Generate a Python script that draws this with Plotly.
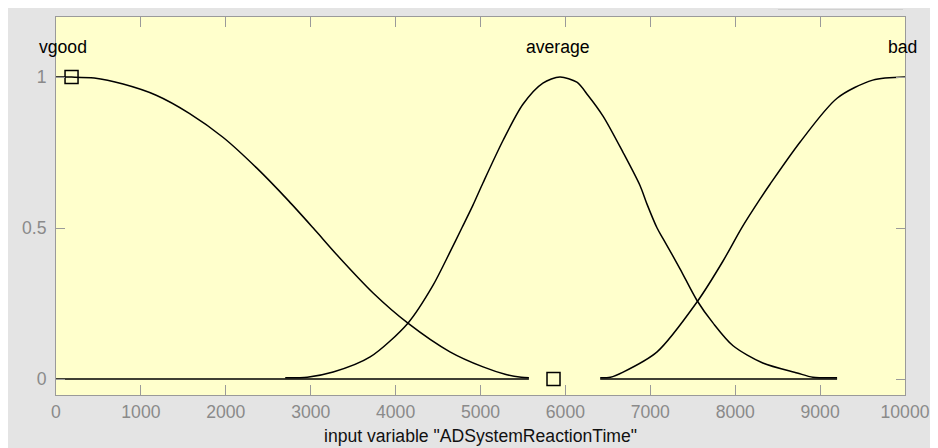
import plotly.graph_objects as go

# ---- data ----
vgood_x = [0, 183, 450, 790, 1180, 1570, 1970, 2360, 2740, 3030, 3345, 3735, 4145, 4640, 5030, 5300, 5480, 5570]
vgood_y = [1.0, 1.0, 0.997, 0.977, 0.94, 0.88, 0.80, 0.70, 0.59, 0.50, 0.40, 0.285, 0.185, 0.09, 0.04, 0.015, 0.006, 0.004]

average_x = [2700, 2960, 3265, 3700, 4145, 4440, 4640, 4780, 4910, 5030, 5265, 5500, 5735, 5935,
             6135, 6265, 6445, 6680, 6880, 6960, 7080, 7150, 7350, 7550, 7740, 7975, 8325, 8730, 8915, 9200]
average_y = [0.004, 0.006, 0.023, 0.073, 0.185, 0.31, 0.42, 0.50, 0.575, 0.65, 0.79, 0.91, 0.98, 1.0,
             0.983, 0.94, 0.87, 0.75, 0.64, 0.58, 0.50, 0.465, 0.365, 0.26, 0.185, 0.11, 0.053, 0.02, 0.006, 0.004]

bad_x = [6410, 6530, 6680, 7080, 7550, 7855, 8075, 8290, 8410, 8765, 9200, 9620, 10000]
bad_y = [0.004, 0.006, 0.023, 0.09, 0.255, 0.39, 0.50, 0.595, 0.645, 0.785, 0.93, 0.99, 1.0]

baseline_segments = [(0, 5570), (6410, 9200)]

handle_x = [183, 5860]
handle_y = [1.0, 0.0]

mf_names = ["vgood", "average", "bad"]
mf_label_x = [82, 5910, 9976]
mf_label_y = [1.1, 1.1, 1.1]

x_ticks = [0, 1000, 2000, 3000, 4000, 5000, 6000, 7000, 8000, 9000, 10000]
x_tick_text = ["0", "1000", "2000", "3000", "4000", "5000", "6000", "7000", "8000", "9000", "10000"]
y_ticks = [0, 0.5, 1]
y_tick_text = ["0", "0.5", "1"]

x_title = 'input variable "ADSystemReactionTime"'

# ---- figure ----
# the page body has an 8px margin, so the figure starts at (8, 8) in the window
W, H = 938, 448
L, R, T, B = 48, 41, 9, 61
pw, ph = W - L - R, H - T - B
FONT = "Arial, Liberation Sans"
FS = 17.6

def px2paper_x(px):
    return (px - L) / pw

def px2paper_y(py):
    return (H - B - py) / ph

fig = go.Figure()

line_style = dict(color="black", width=1.5)

for x0, x1 in baseline_segments:
    fig.add_trace(go.Scatter(x=[x0, x1], y=[0, 0], mode="lines", line=line_style,
                             showlegend=False, hoverinfo="skip"))

for xs, ys, name in [(vgood_x, vgood_y, "vgood"), (average_x, average_y, "average"), (bad_x, bad_y, "bad")]:
    fig.add_trace(go.Scatter(x=xs, y=ys, mode="lines",
                             line=dict(color="black", width=1.5, shape="spline", smoothing=0.8),
                             name=name, showlegend=False))

fig.add_trace(go.Scatter(x=handle_x, y=handle_y, mode="markers",
                         marker=dict(symbol="square-open", size=13, color="black", line=dict(width=1.5, color="black")),
                         showlegend=False, hoverinfo="skip"))

for name, lx, ly in zip(mf_names, mf_label_x, mf_label_y):
    fig.add_annotation(x=lx, y=ly, text=name, showarrow=False, xanchor="center", yanchor="middle",
                       font=dict(size=FS, color="black", family=FONT))

axis_common = dict(showline=True, linecolor="#9a9a9a", linewidth=1, mirror="ticks",
                   ticks="inside", tickcolor="#9a9a9a", showgrid=False, zeroline=False,
                   automargin=False,
                   tickfont=dict(size=FS, color="#8a8a8a", family=FONT))

fig.update_xaxes(range=[0, 10000], tickvals=x_ticks, ticktext=x_tick_text, ticklen=10, ticklabelstandoff=1,
                 title=dict(text=x_title, standoff=8,
                            font=dict(size=FS, color="#111111", family=FONT)),
                 **axis_common)
fig.update_yaxes(range=[-0.053, 1.199], tickvals=y_ticks, ticktext=y_tick_text, ticklen=9,
                 ticklabelstandoff=5, **axis_common)

shapes = [
    dict(type="line", xref="paper", yref="paper", layer="below", line=dict(width=1, color="#d0d0d0"),
         x0=px2paper_x(770), x1=px2paper_x(895), y0=px2paper_y(1.5), y1=px2paper_y(1.5)),
]

fig.update_layout(
    width=W, height=H,
    margin=dict(l=L, r=R, t=T, b=B, pad=0, autoexpand=False),
    paper_bgcolor="#e4e4e4",
    plot_bgcolor="#ffffcc",
    shapes=shapes,
    showlegend=False,
    font=dict(family=FONT),
)

fig.write_html("out.html")
